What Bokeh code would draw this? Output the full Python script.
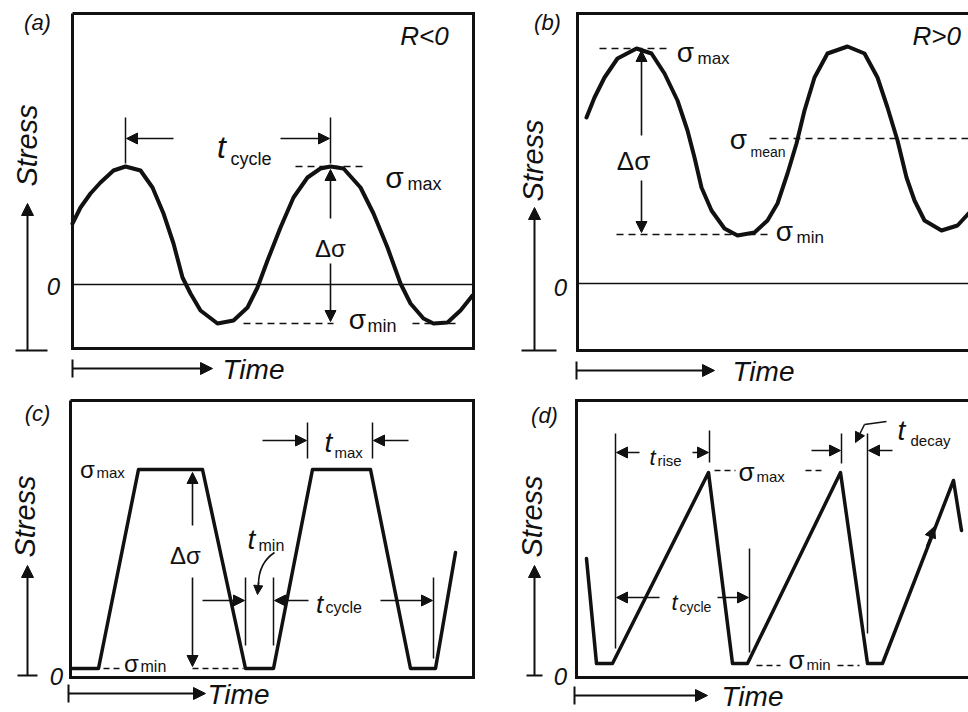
import numpy as np
from bokeh.plotting import figure
from bokeh.models import Range1d, Arrow, NormalHead
from bokeh.layouts import column, row
from bokeh.core.properties import value
from bokeh.embed import file_html
from bokeh.resources import INLINE

FONT = "Liberation Sans"
INK = "#111111"

# ---------------- data: time (arbitrary units), stress (arbitrary units) ----------------
# (a) fully reversed-ish sinusoid, R < 0
a_time = [0.00, 0.08, 0.18, 0.28, 0.41, 0.53, 0.68, 0.80, 0.91, 1.01, 1.10, 1.18, 1.28,
          1.45, 1.61, 1.75, 1.85, 1.95, 2.08, 2.21, 2.35, 2.48, 2.58, 2.71, 2.88, 3.01,
          3.15, 3.28, 3.38, 3.51, 3.61, 3.75, 3.88, 4.00]
a_stress = [0.61, 0.77, 0.91, 1.02, 1.14, 1.18, 1.14, 0.97, 0.71, 0.41, 0.07, -0.09, -0.26,
            -0.39, -0.36, -0.23, -0.03, 0.24, 0.57, 0.87, 1.07, 1.16, 1.18, 1.16, 0.97, 0.71,
            0.37, 0.01, -0.19, -0.34, -0.39, -0.38, -0.26, -0.11]
# (b) tension-tension sinusoid, R > 0
b_time = [0.09, 0.17, 0.27, 0.40, 0.59, 0.74, 0.87, 1.00, 1.10, 1.17, 1.24, 1.34, 1.47,
          1.60, 1.77, 1.90, 2.00, 2.10, 2.19, 2.27, 2.37, 2.50, 2.70, 2.87, 3.00, 3.10,
          3.20, 3.29, 3.37, 3.47, 3.64, 3.80, 3.91]
b_stress = [1.66, 1.86, 2.06, 2.25, 2.35, 2.30, 2.10, 1.83, 1.53, 1.26, 0.96, 0.73, 0.55,
            0.48, 0.51, 0.63, 0.80, 1.10, 1.40, 1.73, 2.06, 2.30, 2.37, 2.30, 2.06, 1.76,
            1.43, 1.06, 0.83, 0.63, 0.53, 0.58, 0.70]
# (c) trapezoidal cycle with hold times
c_time = [0.02, 0.28, 0.68, 1.32, 1.75, 2.03, 2.42, 3.00, 3.40, 3.65, 3.85]
c_stress = [0.09, 0.09, 2.08, 2.08, 0.09, 0.09, 2.08, 2.08, 0.09, 0.09, 1.25]
# (d) saw-tooth cycle (slow rise, fast decay)
d_time = [0.10, 0.20, 0.36, 1.32, 1.56, 1.71, 2.64, 2.91, 3.06, 3.77, 3.85]
d_stress = [1.19, 0.14, 0.14, 2.05, 0.14, 0.14, 2.05, 0.14, 0.14, 1.97, 1.47]

panel_labels = ["(a)", "(b)", "(c)", "(d)"]
ratio_labels = ["R<0", "R>0"]
x_label = "Time"
y_label = "Stress"
zero_label = "0"

SCALE = 100.0


class Panel:
    def __init__(self, x0, y0, left, top, w, h):
        self.x0, self.y0 = x0, y0
        p = figure(width=w, height=h,
                   x_range=Range1d((left - x0) / SCALE, (left + w - x0) / SCALE),
                   y_range=Range1d((y0 - top - h) / SCALE, (y0 - top) / SCALE),
                   min_border=0, toolbar_location=None, output_backend="svg",
                   x_axis_location=None, y_axis_location=None,
                   outline_line_color=None, background_fill_color="white",
                   border_fill_color="white")
        p.grid.visible = False
        self.p = p

    def X(self, px):
        return (float(px) - self.x0) / SCALE

    def Y(self, py):
        return (self.y0 - float(py)) / SCALE

    def line(self, pts, width=1.5, dash="solid"):
        self.p.line([self.X(q[0]) for q in pts], [self.Y(q[1]) for q in pts],
                    line_width=width, line_color=INK, line_dash=dash,
                    line_cap="butt", line_join="miter")

    def arrow(self, x1, y1, x2, y2, size=11, width=1.6):
        self.p.add_layout(Arrow(end=NormalHead(size=size, line_color=INK, fill_color=INK, line_width=1),
                                x_start=self.X(x1), y_start=self.Y(y1),
                                x_end=self.X(x2), y_end=self.Y(y2),
                                line_width=width, line_color=INK))

    def text(self, px, py, s, size, style="italic", align="center", angle=0.0):
        self.p.text(x=[self.X(px)], y=[self.Y(py)], text=[s], text_font=value(FONT),
                    text_font_size=f"{size}px", text_font_style=style, text_align=align,
                    text_baseline="middle", angle=angle, text_color=INK)

    def sig(self, px, py, sub, size=26, subsize=16, dx=13, dy=6):
        self.text(px, py, "σ", size, style="normal")
        self.text(px + dx, py + dy, sub, subsize, style="normal", align="left")

    def tsub(self, px, py, sub, size=28, subsize=16, dx=7, dy=8):
        self.text(px, py, "t", size, style="italic")
        self.text(px + dx, py + dy, sub, subsize, style="normal", align="left")

    def wave(self, t, s, width=4):
        self.p.line(t, s, line_width=width, line_color=INK, line_join="round", line_cap="round")


def axes_deco(P, lab, stress_c, up_x, up_y0, up_y1, tick_x0, tick_x1, zero_xy,
              time_y, time_x0, time_x1, time_lab_x, lab_xy):
    P.text(lab_xy[0], lab_xy[1], lab, 22)
    P.text(stress_c[0], stress_c[1], y_label, 29, angle=np.pi / 2)
    P.arrow(up_x, up_y0, up_x, up_y1, size=12, width=2)
    P.line([(tick_x0, up_y0), (tick_x1, up_y0)], width=2)
    P.text(zero_xy[0], zero_xy[1], zero_label, 24)
    P.arrow(time_x0, time_y, time_x1, time_y, size=12, width=2)
    P.line([(time_x0, time_y - 9), (time_x0, time_y + 9)], width=2)
    P.text(time_lab_x, time_y + 1, x_label, 28, align="left")


# ---------------- panel (a) ----------------
A = Panel(72, 284, 0, 0, 484, 390)
A.line([(72, 13), (473, 13), (473, 348), (72, 348), (72, 13)], width=3)
A.line([(72, 284), (473, 284)], width=1.5)
A.wave(a_time, a_stress)
axes_deco(A, panel_labels[0], (26, 145), 27, 350, 203, 15, 47, (53, 286),
          368, 72, 212, 222, (37, 22))
A.text(424, 35, ratio_labels[0], 26)
A.line([(125, 117), (125, 163)]); A.line([(330, 117), (330, 163)])
A.arrow(173, 138, 126, 138); A.arrow(280, 138, 329, 138)
A.tsub(221, 146, "cycle", size=32, subsize=18, dx=9, dy=12)
A.line([(295, 166), (367, 166)], dash="7 5")
A.sig(394, 177, "max", size=30, subsize=18, dx=13, dy=6)
A.arrow(330, 218, 330, 169); A.arrow(330, 263, 330, 321)
A.text(330, 248, "Δσ", 24, style="normal")
A.line([(243, 323), (333, 323)], dash="7 5"); A.line([(412, 323), (457, 323)], dash="7 5")
A.sig(357, 319, "min", size=28, subsize=18, dx=10, dy=6)

# ---------------- panel (b) ----------------
B = Panel(577, 283, 484, 0, 484, 390)
B.line([(990, 13), (577, 13), (577, 350), (990, 350)], width=3)
B.line([(577, 283), (990, 283)], width=1.5)
B.wave(b_time, b_stress)
axes_deco(B, panel_labels[1], (532, 160), 534, 350, 207, 521, 556, (560, 287),
          370, 576, 714, 732, (547, 22))
B.text(912, 35, ratio_labels[1], 26, align="left")
B.line([(599, 48), (671, 48)], dash="7 5")
B.sig(685, 52, "max", size=28, subsize=17, dx=12, dy=6)
B.arrow(641, 135, 641, 50); B.arrow(641, 180, 641, 232)
B.text(633, 160, "Δσ", 26, style="normal")
B.line([(616, 234), (771, 234)], dash="7 5")
B.sig(784, 231, "min", size=28, subsize=17, dx=12, dy=6)
B.line([(769, 138), (990, 138)], dash="7 5")
B.sig(738, 139, "mean", size=28, subsize=14, dx=12, dy=12)

# ---------------- panel (c) ----------------
C = Panel(70, 677, 0, 390, 484, 322)
C.line([(70, 400), (473, 400), (473, 677), (70, 677), (70, 400)], width=3)
C.wave(c_time, c_stress, width=3.5)
axes_deco(C, panel_labels[2], (24, 516), 27, 675, 565, 17, 37, (56, 676),
          693, 68, 205, 207, (37, 413))
C.sig(87, 469, "max", size=24, subsize=15, dx=9, dy=3)
C.arrow(192, 525, 192, 472); C.arrow(192, 577, 192, 666)
C.text(185, 555, "Δσ", 24, style="normal")
C.line([(103, 668), (120, 668)], dash="6 4"); C.line([(192, 668), (243, 668)], dash="6 4")
C.sig(131, 663, "min", size=24, subsize=16, dx=9, dy=3)
C.line([(307, 422), (307, 458)]); C.line([(372, 422), (372, 458)])
C.arrow(262, 440, 306, 440); C.arrow(408, 440, 373, 440)
C.tsub(328, 442, "max", size=28, subsize=15, dx=6, dy=10)
C.line([(245, 577), (245, 645)]); C.line([(273, 577), (273, 645)])
C.arrow(202, 600, 244, 600)
C.arrow(308, 600, 274, 600); C.arrow(380, 600, 432, 600)
C.line([(433, 577), (433, 658)])
C.tsub(251, 539, "min", size=28, subsize=16, dx=7, dy=6)
C.tsub(319, 603, "cycle", size=26, subsize=16, dx=6, dy=4)
C.p.bezier(x0=[C.X(274)], y0=[C.Y(552)], x1=[C.X(258)], y1=[C.Y(584)],
           cx0=[C.X(262)], cy0=[C.Y(560)], cx1=[C.X(258)], cy1=[C.Y(572)],
           line_color=INK, line_width=1.6)
C.arrow(258, 582, 257, 594, size=9)

# ---------------- panel (d) ----------------
D = Panel(576, 677, 484, 390, 484, 322)
D.line([(990, 400), (576, 400), (576, 677), (990, 677)], width=3)
D.wave(d_time, d_stress, width=3.5)
axes_deco(D, panel_labels[3], (531, 516), 534, 675, 565, 526, 542, (560, 676),
          695, 574, 707, 721, (544, 415))
for (xx, ya, yb) in [(615, 433, 648), (709, 430, 462), (749, 548, 652), (841, 433, 463), (867, 433, 633)]:
    D.line([(xx, ya), (xx, yb)])
D.arrow(639, 452, 616, 452); D.arrow(692, 452, 708, 452)
D.tsub(652, 457, "rise", size=22, subsize=15, dx=5, dy=3)
D.arrow(659, 597, 616, 597); D.arrow(717, 597, 748, 597)
D.tsub(674, 602, "cycle", size=22, subsize=14, dx=5, dy=4)
D.line([(714, 470), (735, 470)], dash="6 4"); D.line([(805, 470), (821, 470)], dash="6 4")
D.sig(746, 471, "max", size=26, subsize=15, dx=10, dy=5)
D.line([(756, 665), (780, 665)], dash="6 4"); D.line([(837, 665), (859, 665)], dash="6 4")
D.sig(796, 659, "min", size=26, subsize=15, dx=10, dy=5)
D.arrow(811, 450, 840, 450); D.arrow(892, 450, 868, 450)
D.tsub(901, 430, "decay", size=28, subsize=15, dx=9, dy=10)
D.line([(886, 421), (864, 424)])
D.arrow(864, 424, 855, 442, size=10)
D.arrow(926, 546, 934, 526, size=11)

layout = column(row(A.p, B.p), row(C.p, D.p))
open("out.html", "w").write(file_html(layout, INLINE))
